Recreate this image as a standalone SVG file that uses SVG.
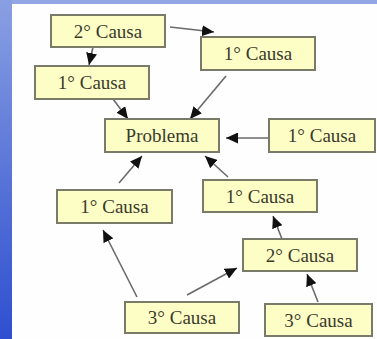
<svg xmlns="http://www.w3.org/2000/svg" width="377" height="339" viewBox="0 0 377 339">
<defs>
<linearGradient id="side" x1="0" y1="0" x2="0" y2="1">
<stop offset="0" stop-color="#8a9fe2"/>
<stop offset="0.5" stop-color="#5a76d8"/>
<stop offset="1" stop-color="#2f4fd0"/>
</linearGradient>
<marker id="ah" markerWidth="13" markerHeight="11" refX="12" refY="5.5" orient="auto" markerUnits="userSpaceOnUse">
<path d="M0,0 L12,5.5 L0,11 z" fill="#111"/>
</marker>
<style>
.box{fill:#fdfdc6;stroke:#7a7a68;stroke-width:2}
.t{font-family:'Liberation Serif','Times New Roman','DejaVu Serif',serif;font-size:19px;fill:#3a3a2c;text-anchor:middle}
.c{stroke:#6a6a6a;stroke-width:1.6;fill:none;marker-end:url(#ah)}
</style>
</defs>
<rect width="377" height="339" fill="#fefefe"/>
<rect x="0" y="0" width="377" height="4" fill="#92a6e4"/>
<rect x="0" y="0" width="12" height="339" fill="url(#side)"/>
<g id="connectors">
<line class="c" x1="170" y1="27" x2="214" y2="32"/>
<line class="c" x1="93" y1="47" x2="89" y2="65"/>
<line class="c" x1="113" y1="99" x2="128" y2="119"/>
<line class="c" x1="226" y1="76" x2="190" y2="119"/>
<line class="c" x1="269" y1="138" x2="226" y2="138"/>
<line class="c" x1="119" y1="183" x2="142" y2="156"/>
<line class="c" x1="228" y1="177" x2="205" y2="156"/>
<line class="c" x1="282" y1="239" x2="273" y2="216"/>
<line class="c" x1="137" y1="297" x2="103" y2="230"/>
<line class="c" x1="187" y1="295" x2="237" y2="268"/>
<line class="c" x1="318" y1="302" x2="307" y2="274"/>
</g>
<g id="n2causa_top"><rect class="box" x="51" y="15" width="114" height="32"/><text class="t" x="108" y="38">2° Causa</text></g>
<g id="n1causa_left"><rect class="box" x="35" y="66" width="114" height="33"/><text class="t" x="92" y="89">1° Causa</text></g>
<g id="n1causa_topright"><rect class="box" x="201" y="37" width="114" height="33"/><text class="t" x="258" y="60">1° Causa</text></g>
<g id="problema"><rect class="box" x="105" y="119" width="114" height="33"/><text class="t" x="162" y="142">Problema</text></g>
<g id="n1causa_right"><rect class="box" x="269" y="119" width="106" height="33"/><text class="t" x="322" y="142">1° Causa</text></g>
<g id="n1causa_botleft"><rect class="box" x="57" y="190" width="115" height="33"/><text class="t" x="114.5" y="213">1° Causa</text></g>
<g id="n1causa_mid"><rect class="box" x="203" y="180" width="114" height="32"/><text class="t" x="260" y="202.5">1° Causa</text></g>
<g id="n2causa_bot"><rect class="box" x="243" y="239" width="114" height="32"/><text class="t" x="300" y="261.5">2° Causa</text></g>
<g id="n3causa_left"><rect class="box" x="125" y="302" width="114" height="31"/><text class="t" x="182" y="324">3° Causa</text></g>
<g id="n3causa_right"><rect class="box" x="265" y="304" width="107" height="32"/><text class="t" x="318.5" y="326.5">3° Causa</text></g>
</svg>
